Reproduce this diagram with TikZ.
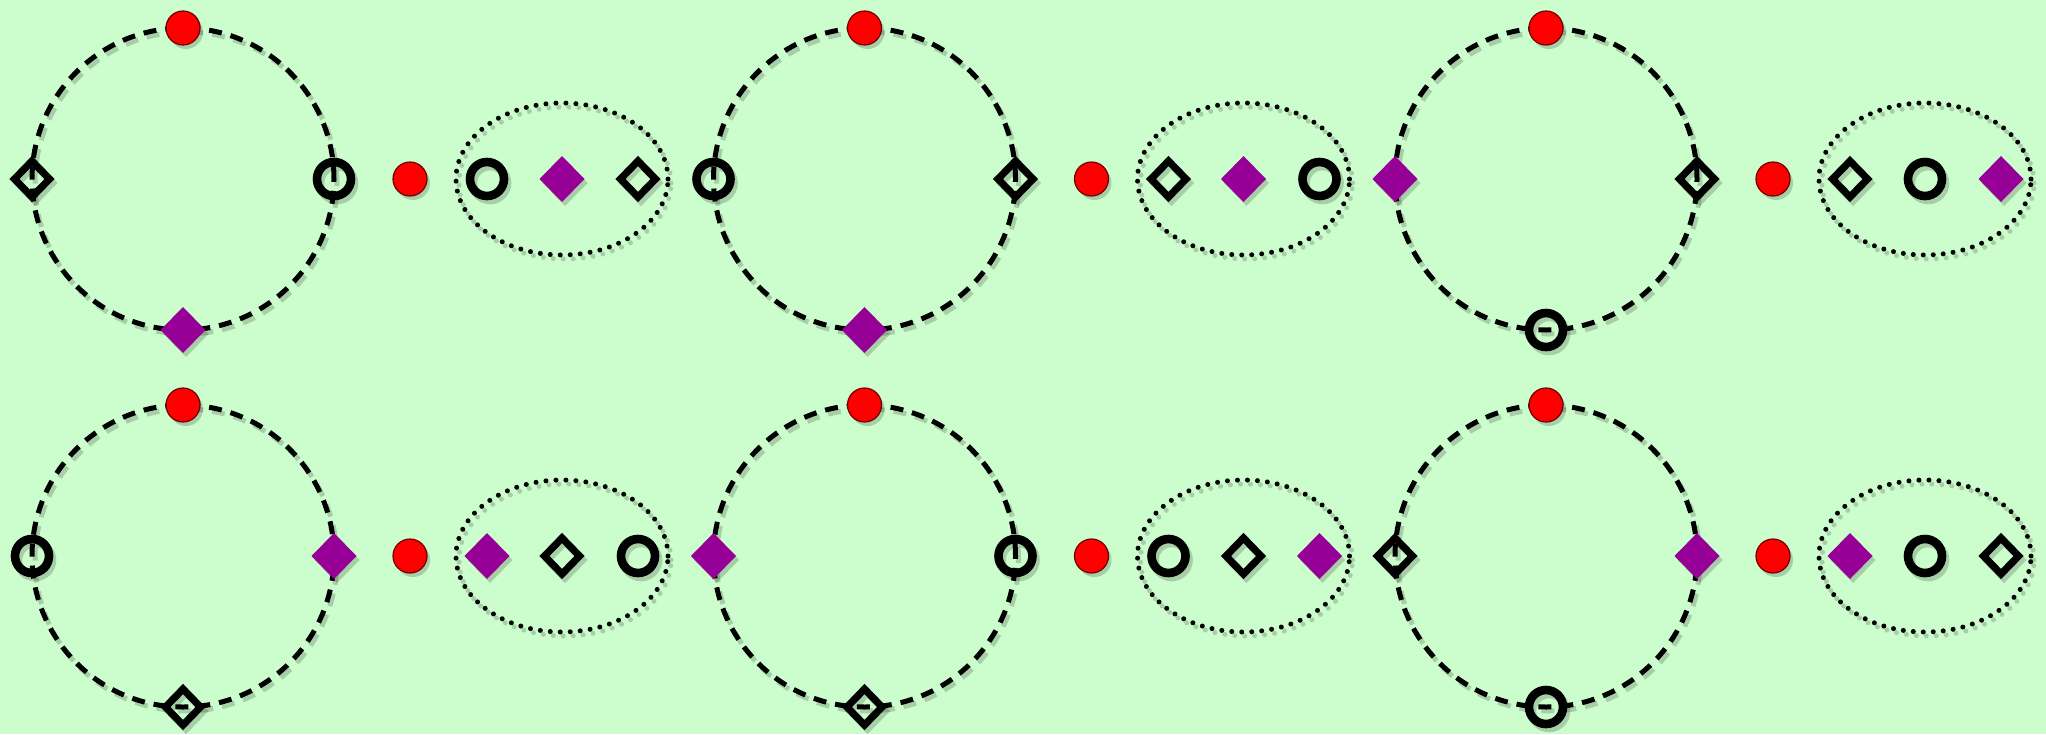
\documentclass[tikz,border=0pt]{standalone}
\usetikzlibrary{shapes.geometric}
\definecolor{bg}{RGB}{204,253,204}
\definecolor{mypurple}{RGB}{150,0,150}
\definecolor{myred}{RGB}{255,0,0}
\definecolor{reddark}{RGB}{110,0,0}
\tikzset{
  shdraw/.style={preaction={draw=black, draw opacity=0.18, transform canvas={shift={(1.5pt,-2pt)}}}},
  shfill/.style={preaction={fill=black, fill opacity=0.18, transform canvas={shift={(1.5pt,-2pt)}}}},
  dashcirc/.style={circle, draw=black, line width=2.5pt, dash pattern=on 6.5pt off 4.5pt,
    minimum size=151pt, inner sep=0pt, outer sep=0pt, shdraw},
  dotell/.style={ellipse, draw=black, line width=2.5pt, dash pattern=on 0pt off 5pt, line cap=round,
    minimum width=106pt, minimum height=76pt, inner sep=0pt, outer sep=0pt, shdraw},
  itemred/.style={circle, fill=myred, draw=reddark, line width=0.6pt, minimum size=17pt,
    inner sep=0pt, outer sep=0pt, shfill},
  itemring/.style={circle, draw=black, line width=4.3pt, minimum size=17pt,
    inner sep=0pt, outer sep=0pt, shdraw},
  itemdia/.style={diamond, draw=black, line width=3.6pt, minimum width=17.5pt, minimum height=18pt,
    inner sep=0pt, outer sep=0pt, shdraw},
  itempur/.style={diamond, fill=mypurple, minimum width=22.5pt, minimum height=23pt,
    inner sep=0pt, outer sep=0pt, shfill},
}
% #1 name, #2 x, #3 y, #4 left, #5 right, #6 bottom, #7 e1, #8 e2, #9 e3
\newcommand\mkcell[9]{%
  \begin{scope}[shift={(#2,#3)}]
    \node[dashcirc] (#1c) at (0,0) {};
    \node[itemred] (#1t) at (#1c.north) {};
    \node[#4] (#1l) at (#1c.west) {};
    \node[#5] (#1r) at (#1c.east) {};
    \node[#6] (#1b) at (#1c.south) {};
    \node[itemred] (#1m) at (227,0) {};
    \node[dotell] (#1e) at (379,0) {};
    \node[#7] (#1ea) at (304,0) {};
    \node[#8] (#1eb) at (379,0) {};
    \node[#9] (#1ec) at (455,0) {};
  \end{scope}}
\begin{document}
\begin{tikzpicture}[x=0.5pt,y=-0.5pt]
  \fill[bg] (0,0) rectangle (2046,734);
  \useasboundingbox (0,0) rectangle (2046,734);
  % top row
  \mkcell{a}{183}{179}{itemdia}{itemring}{itempur}{itemring}{itempur}{itemdia}
  \mkcell{b}{864.5}{179}{itemring}{itemdia}{itempur}{itemdia}{itempur}{itemring}
  \mkcell{c}{1546}{179}{itempur}{itemdia}{itemring}{itemdia}{itemring}{itempur}
  % bottom row
  \mkcell{d}{183}{556}{itemring}{itempur}{itemdia}{itempur}{itemdia}{itemring}
  \mkcell{e}{864.5}{556}{itempur}{itemring}{itemdia}{itemring}{itemdia}{itempur}
  \mkcell{f}{1546}{556}{itemdia}{itempur}{itemring}{itempur}{itemring}{itemdia}
\end{tikzpicture}
\end{document}
